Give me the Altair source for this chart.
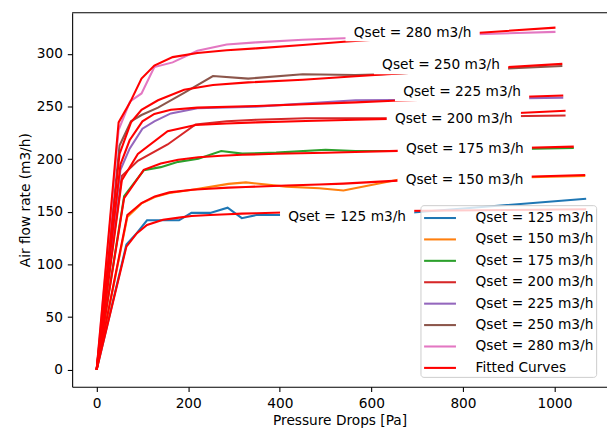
import altair as alt
import pandas as pd

# ---------------- data ----------------
qsets = [125, 150, 175, 200, 225, 250, 280]
names = [f"Qset = {q} m3/h" for q in qsets]
fit_name = "Fitted Curves"
colors = ["#1f77b4", "#ff7f0e", "#2ca02c", "#d62728", "#9467bd", "#8c564b", "#e377c2"]
fit_color = "#ff0000"

p125 = [0, 65, 88, 110, 145, 180, 207, 248, 286, 317, 349, 407, 650, 1069]
d125 = [0, 119, 130, 142, 142, 142, 149, 149, 154, 144, 147, 147, 148, 162.5]
f125 = [0, 117, 129.7, 137.5, 142.5, 144.5, 146, 147, 147.8, 148.3, 148.7, 149.4, 150.8, 152.5]

p150 = [0, 67, 98, 127, 159, 209, 245, 288, 326, 414, 486, 539, 658, 1067]
d150 = [0, 145, 158, 164, 168, 171, 173.5, 176.6, 178, 174, 172.5, 170.3, 180.4, 184]
f150 = [0, 147, 158.4, 164.7, 168.5, 171, 172, 173, 173.6, 175, 176, 176.8, 179.7, 185]

p175 = [0, 60, 103, 140, 178, 222, 272, 318, 392, 500, 565, 658, 1042]
d175 = [0, 165, 189.5, 192.5, 197.5, 200.5, 207.8, 205.3, 206.3, 209, 207.8, 207.8, 210.6]
f175 = [0, 163, 190, 196, 199.5, 201.8, 203.3, 204.2, 205.2, 206.2, 206.9, 207.9, 212]

p200 = [0, 55, 90, 155, 216, 284, 349, 457, 565, 636, 1024]
d200 = [0, 184, 198.5, 214, 233, 236, 237.5, 239, 239, 239, 241.6]
f200 = [0, 180, 205, 226.6, 232.5, 234, 235, 236.3, 237.5, 238.3, 246]

p225 = [0, 52, 72, 100, 126, 162, 220, 349, 565, 648, 1019]
d225 = [0, 190, 210, 229, 236, 243.5, 248.4, 250, 256, 256.3, 258.5]
f225 = [0, 195, 218, 236, 243, 247, 249, 250.5, 254, 255.5, 260.6]

p250 = [0, 50, 75, 98, 134, 191, 254, 331, 450, 565, 608, 1017]
d250 = [0, 213, 236, 242, 249, 263, 279, 276.6, 280.7, 280, 280.5, 288.5]
f250 = [0, 205, 235, 247, 256, 266, 270.6, 273, 275.5, 278.8, 280, 290.6]

p280 = [0, 48, 73, 98, 126, 166, 220, 284, 349, 450, 540, 1002]
d280 = [0, 228, 255, 262.5, 287.5, 292, 303, 309, 311, 313.5, 315, 321]
f280 = [0, 235, 254, 276.6, 289, 297, 301, 303.5, 305.3, 308.5, 311.6, 325]

# inline label anchor points (pressure, flow)
label_p = [547, 803.5, 804, 780, 798, 752, 690]
label_q = [145.3, 180.4, 209.4, 238.5, 263.4, 289.1, 320.3]

x_ticks = [0, 200, 400, 600, 800, 1000]
y_ticks = [0, 50, 100, 150, 200, 250, 300]

# ---------------- tables ----------------
allp = [p125, p150, p175, p200, p225, p250, p280]
alld = [d125, d150, d175, d200, d225, d250, d280]
allf = [f125, f150, f175, f200, f225, f250, f280]

meas_rows, fit_rows = [], []
for name, P, D, F in zip(names, allp, alld, allf):
    for i, (p, d, f) in enumerate(zip(P, D, F)):
        meas_rows.append({"series": name, "grp": name, "P": p, "Q": d, "i": i})
        fit_rows.append({"series": fit_name, "grp": name, "P": p, "Q": f, "i": i})
meas_df = pd.DataFrame(meas_rows)
fit_df = pd.DataFrame(fit_rows)
lab_df = pd.DataFrame({"P": label_p, "Q": label_q, "text": names})

FONT = "DejaVu Sans"
FS = 13.9

xscale = alt.Scale(domain=[-53.5, 1114.5], nice=False, zero=False)
yscale = alt.Scale(domain=[-16.15, 339.15], nice=False, zero=False)
cscale = alt.Scale(domain=names + [fit_name], range=colors + [fit_color])

legend = alt.Legend(
    orient="none", legendX=353, legendY=195, title=None,
    symbolType="M-1.7,0H1.7", symbolSize=361, symbolStrokeWidth=2.1,
    symbolOffset=6.8, labelOffset=25, rowPadding=3.7, padding=2,
    labelFont=FONT, labelFontSize=FS, labelColor="black",
    fillColor="rgba(255,255,255,0.8)", strokeColor="#cccccc", cornerRadius=3,
)

X = alt.X("P:Q", scale=xscale,
          axis=alt.Axis(title="Pressure Drops [Pa]", values=x_ticks, format="d"))
Y = alt.Y("Q:Q", scale=yscale,
          axis=alt.Axis(title="Air flow rate (m3/h)", values=y_ticks, format="d"))

meas = alt.Chart(meas_df).mark_line(strokeWidth=2.1).encode(
    x=X, y=Y,
    color=alt.Color("series:N", scale=cscale, legend=legend),
    detail="grp:N", order="i:Q",
)
fit = alt.Chart(fit_df).mark_line(strokeWidth=2.1).encode(
    x=X, y=Y,
    color=alt.Color("series:N", scale=cscale, legend=legend),
    detail="grp:N", order="i:Q",
)
boxes = alt.Chart(lab_df).mark_point(
    shape="M-1,-0.13H1V0.13H-1Z", size=18496, filled=True, color="white", opacity=1, strokeWidth=0
).encode(x="P:Q", y="Q:Q")
texts = alt.Chart(lab_df).mark_text(
    font=FONT, fontSize=FS, color="black", align="center", baseline="middle"
).encode(x="P:Q", y="Q:Q", text="text:N")
top_spine = alt.Chart(pd.DataFrame({"a": [0]})).mark_rule(color="black", strokeWidth=1.1).encode(
    x=alt.value(0), x2=alt.value(542), y=alt.value(0)
)

chart = alt.layer(meas, fit, boxes, texts, top_spine).properties(
    width=542, height=379,
    autosize=alt.AutoSizeParams(type="none"),
    padding={"left": 65, "top": 2, "right": 0, "bottom": 40},
).configure_view(stroke=None).configure_axis(
    grid=False, domainColor="black", domainWidth=1.1, tickColor="black", tickWidth=1.1,
    tickSize=4.9, labelPadding=4.9, labelFont=FONT, labelFontSize=FS, labelColor="black",
    titleFont=FONT, titleFontSize=FS, titleFontWeight="normal", titleColor="black", titlePadding=4,
)

chart.save("out.html", embed_options={"renderer": "svg", "actions": False})
